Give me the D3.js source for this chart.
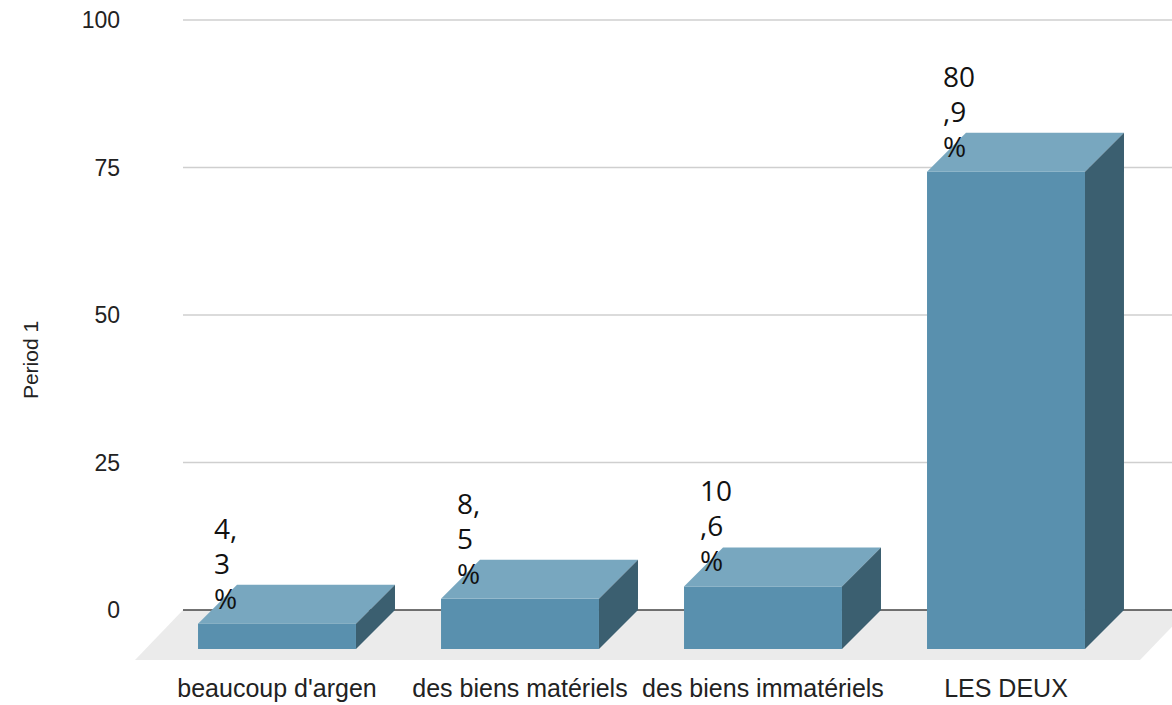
<!DOCTYPE html>
<html>
<head>
<meta charset="utf-8">
<script src="https://cdn.jsdelivr.net/npm/d3@7"></script>
<style>
  body { margin: 0; background: #fff; }
</style>
</head>
<body>
<div id="chart"></div>
<script>
// Chart data
const categories = ["beaucoup d'argen", "des biens matériels", "des biens immatériels", "LES DEUX"];
const values = [4.3, 8.5, 10.6, 80.9];
const yTicks = [0, 25, 50, 75, 100];
const yTitle = "Period 1";

// Dimensions
const width = 1172;
const height = 705;
const depth = 39; // 3D offset (x right, y up)

const svg = d3.select("#chart")
  .append("svg")
  .attr("width", width)
  .attr("height", height);

// Scales: y on the back plane, x on the front face
const yScale = d3.scaleLinear()
  .domain([0, 100])
  .range([610, 20]);

const xScale = d3.scaleBand()
  .domain(categories)
  .range([155.5, 1127.5])
  .paddingInner(0.35)
  .paddingOuter(0.175);

const y0 = yScale(0);

// Floor
const floorLeft = 183, floorRight = 1188, floorDepth = 50, floorShift = 48;
svg.append("path")
  .attr("d", `M${floorLeft},${y0} L${floorRight},${y0} L${floorRight - floorShift},${y0 + floorDepth} L${floorLeft - floorShift},${y0 + floorDepth} Z`)
  .attr("fill", "#ebebeb");

// Gridlines
svg.append("g")
  .selectAll("line")
  .data(yTicks.filter(d => d !== 0))
  .enter()
  .append("line")
  .attr("x1", floorLeft)
  .attr("x2", width)
  .attr("y1", d => yScale(d))
  .attr("y2", d => yScale(d))
  .attr("stroke", "#cfcfcf")
  .attr("stroke-width", 1.5);

// Zero line
svg.append("line")
  .attr("x1", floorLeft)
  .attr("x2", width)
  .attr("y1", y0)
  .attr("y2", y0)
  .attr("stroke", "#444")
  .attr("stroke-width", 1.5);

// Y tick labels
svg.append("g")
  .selectAll("text")
  .data(yTicks)
  .enter()
  .append("text")
  .attr("x", 120)
  .attr("y", d => yScale(d) + 8)
  .attr("text-anchor", "end")
  .style("font-family", "Liberation Sans, Arial, sans-serif")
  .style("font-size", "23px")
  .style("fill", "#222")
  .text(d => d);

// Y axis title
svg.append("text")
  .attr("transform", "translate(38, 360) rotate(-90)")
  .attr("text-anchor", "middle")
  .style("font-family", "Liberation Sans, Arial, sans-serif")
  .style("font-size", "21px")
  .style("fill", "#222")
  .text(yTitle);

// Bars
const data = categories.map((c, i) => ({ label: c, value: values[i] }));
const bw = xScale.bandwidth();

const bars = svg.selectAll(".bar")
  .data(data)
  .enter()
  .append("g")
  .attr("class", "bar");

// Front face
bars.append("rect")
  .attr("x", d => xScale(d.label))
  .attr("y", d => yScale(d.value) + depth)
  .attr("width", bw)
  .attr("height", d => y0 - yScale(d.value))
  .attr("fill", "#5990ae");

// Top face
bars.append("path")
  .attr("d", d => {
    const x = xScale(d.label), yt = yScale(d.value) + depth;
    return `M${x},${yt} L${x + depth},${yt - depth} L${x + bw + depth},${yt - depth} L${x + bw},${yt} Z`;
  })
  .attr("fill", "#78a7bf");

// Side face
bars.append("path")
  .attr("d", d => {
    const x = xScale(d.label) + bw, yt = yScale(d.value) + depth, yb = y0 + depth;
    return `M${x},${yt} L${x + depth},${yt - depth} L${x + depth},${yb - depth} L${x},${yb} Z`;
  })
  .attr("fill", "#3b5f70");

// Value labels (wrapped into narrow lines like the original)
const wrapLabel = v => {
  const s = v.toFixed(1).replace(".", ",");
  const parts = [];
  for (let i = 0; i < s.length; i += 2) parts.push(s.slice(i, i + 2));
  parts.push("%");
  return parts;
};

const labelDx = 16;
const labels = bars.append("text")
  .attr("x", d => xScale(d.label) + labelDx)
  .attr("y", d => yScale(d.value) + 24)
  .style("font-family", "Open Sans, Noto Sans, sans-serif")
  .style("font-size", "28px")
  .style("fill", "#111");

labels.each(function(d) {
  const lines = wrapLabel(d.value);
  const t = d3.select(this);
  const n = lines.length;
  lines.forEach((line, i) => {
    t.append("tspan")
      .attr("x", xScale(d.label) + labelDx)
      .attr("dy", i === 0 ? -(n - 1) * 35 : 35)
      .text(line);
  });
});

// Category labels
svg.append("g")
  .selectAll("text")
  .data(categories)
  .enter()
  .append("text")
  .attr("x", d => xScale(d) + bw / 2)
  .attr("y", 697)
  .attr("text-anchor", "middle")
  .style("font-family", "Liberation Sans, Arial, sans-serif")
  .style("font-size", "25px")
  .style("fill", "#222")
  .text(d => d);
</script>
</body>
</html>
